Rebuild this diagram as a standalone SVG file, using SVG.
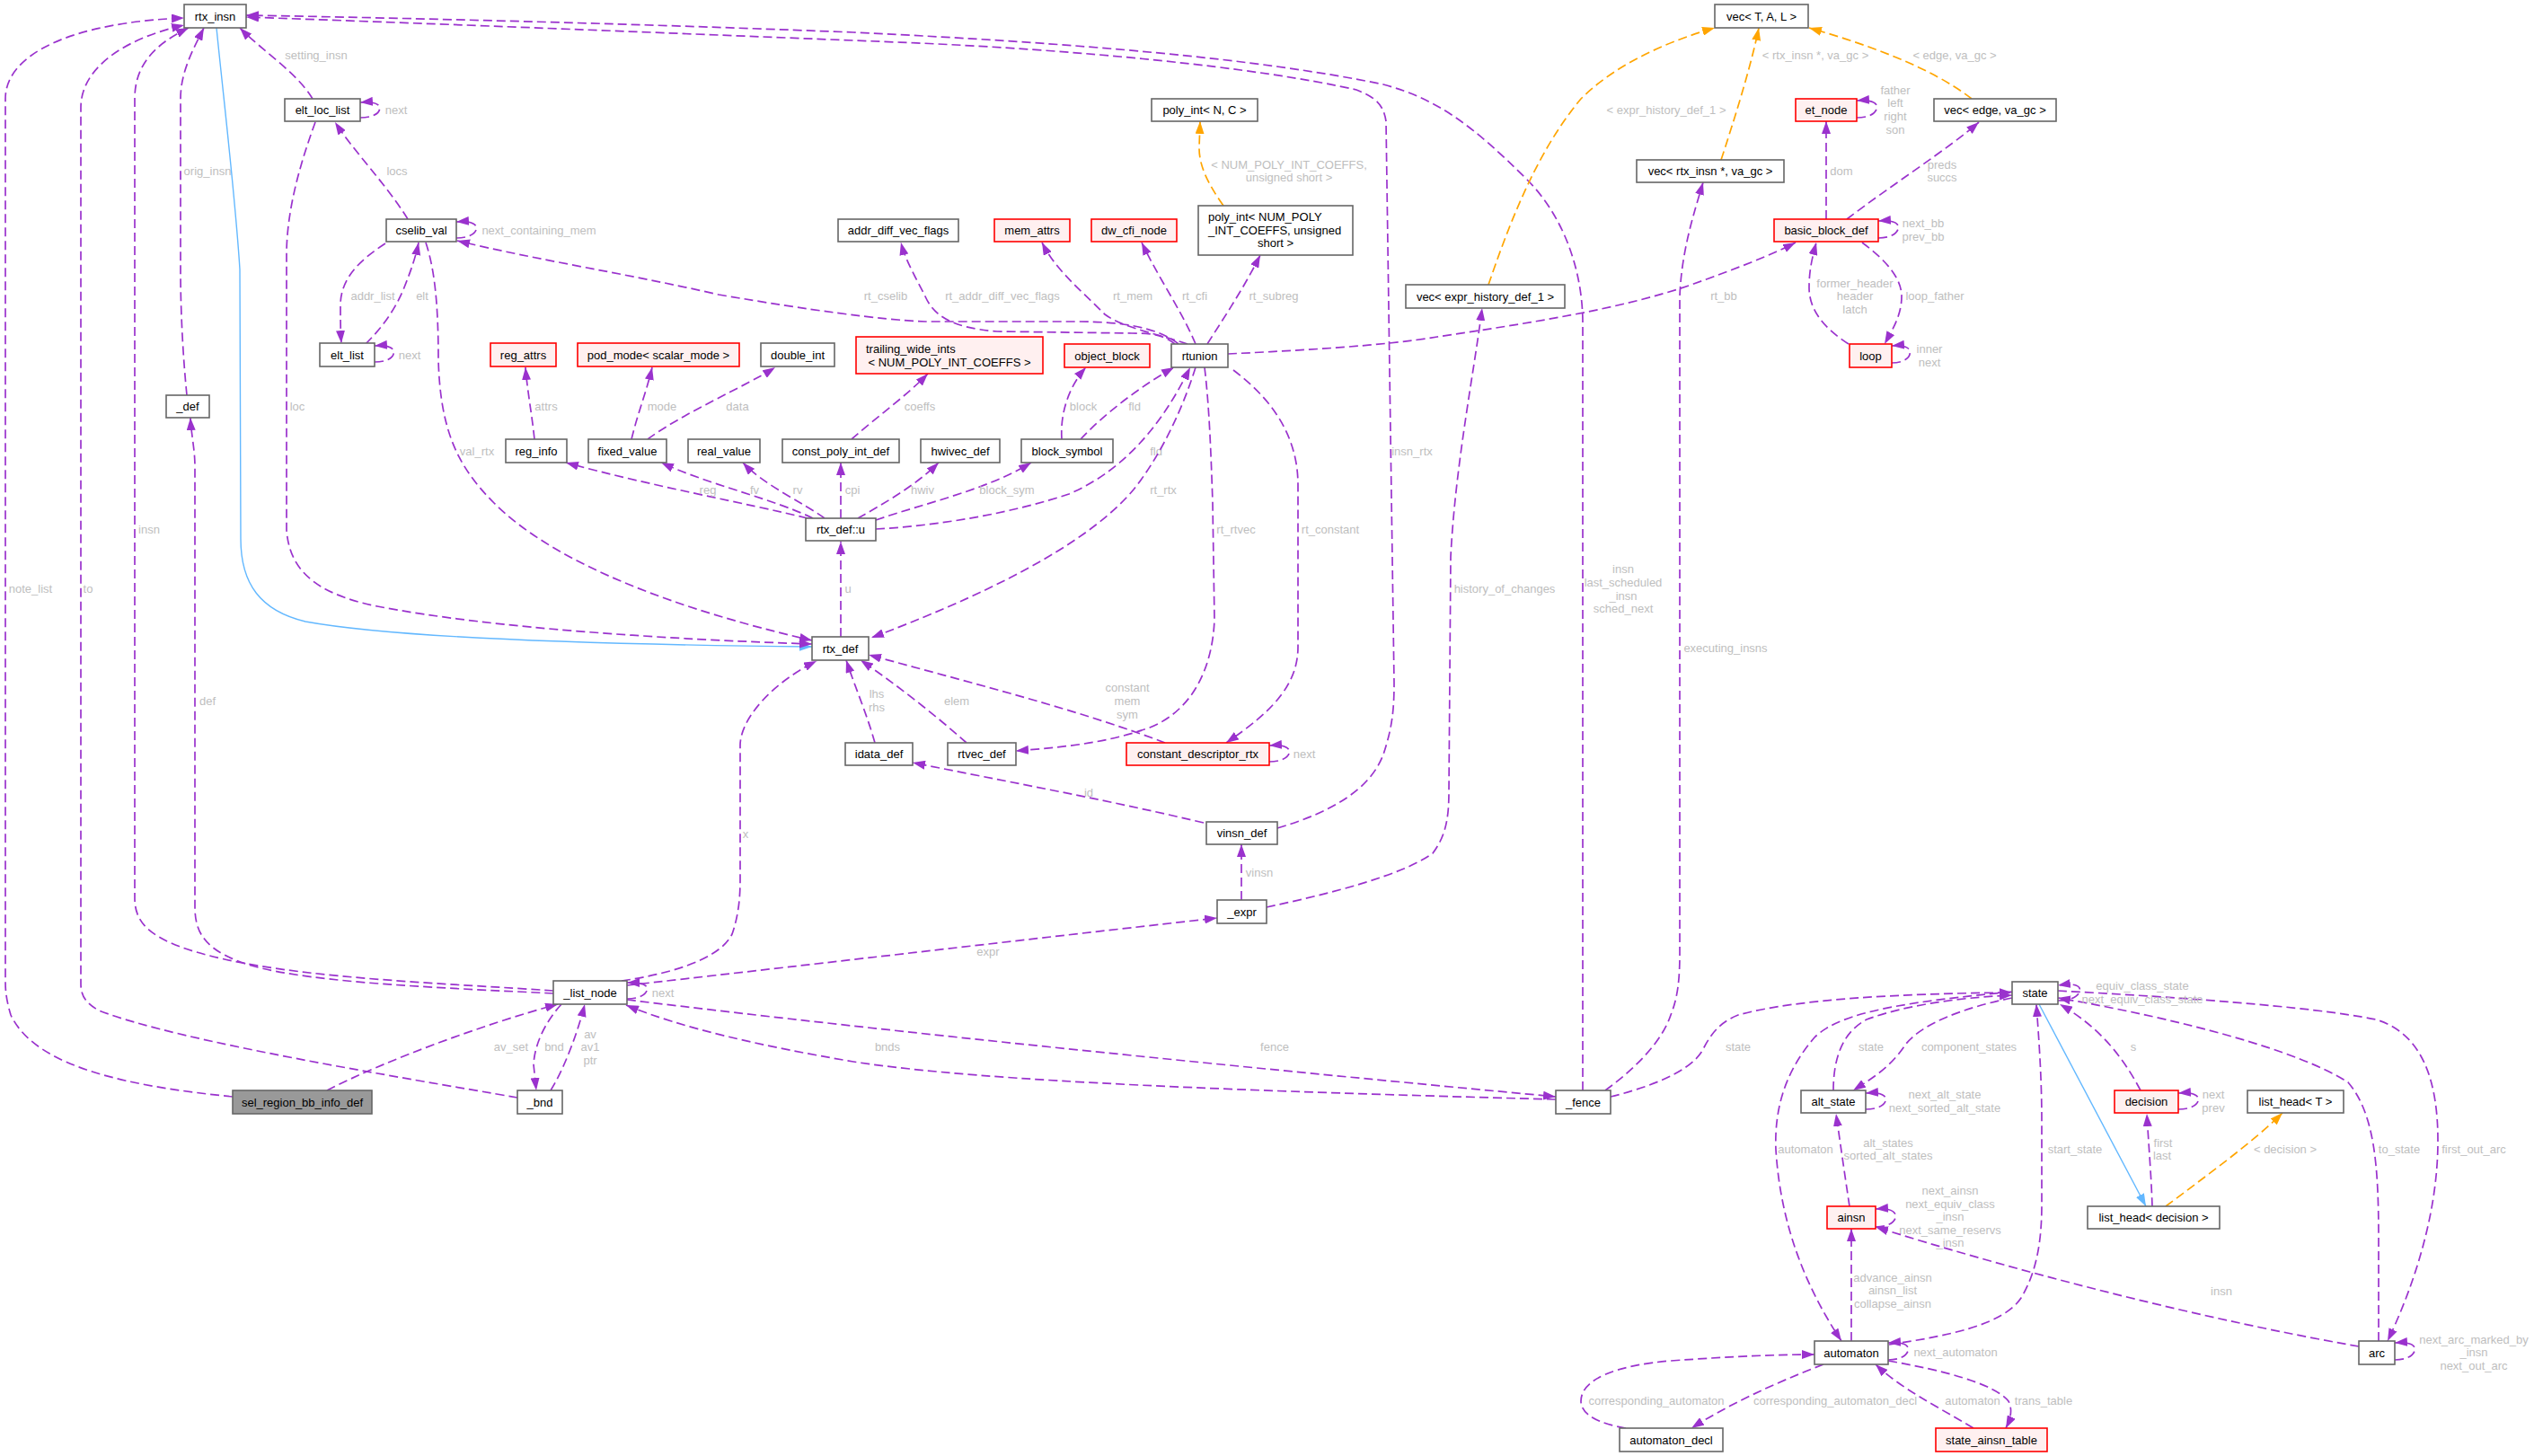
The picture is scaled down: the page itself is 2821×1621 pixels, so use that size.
<svg xmlns="http://www.w3.org/2000/svg" width="2821" height="1621" viewBox="0 0 2821 1621">
<style>
.bg{fill:#ffffff}
.n rect{fill:#ffffff;stroke:#666666;stroke-width:1.6}
.n.red rect{fill:#fff0f0;stroke:#ff0000}
.n.root rect{fill:#999999;stroke:#666666}
.n text{font-family:"Liberation Sans",Arial,sans-serif;font-size:13px;fill:#000000;text-anchor:middle}
.n text.l{text-anchor:start}
.e path{fill:none;stroke:#9a32cd;stroke-width:1.7;stroke-dasharray:10,5;marker-end:url(#ap)}
.e.o path{stroke:#ffa500;marker-end:url(#ao)}
.e.b path{stroke:#63b8ff;stroke-dasharray:none;stroke-width:1.4;marker-end:url(#ab)}
.e text{font-family:"Liberation Sans",Arial,sans-serif;font-size:13px;fill:#bebebe;text-anchor:middle}
</style>
<defs>
<marker id="ap" markerUnits="userSpaceOnUse" markerWidth="14" markerHeight="10" viewBox="0 0 14 10" refX="14" refY="5" orient="auto"><path d="M0,0 L14,5 L0,10 z" fill="#9a32cd"/></marker>
<marker id="ao" markerUnits="userSpaceOnUse" markerWidth="14" markerHeight="10" viewBox="0 0 14 10" refX="14" refY="5" orient="auto"><path d="M0,0 L14,5 L0,10 z" fill="#ffa500"/></marker>
<marker id="ab" markerUnits="userSpaceOnUse" markerWidth="14" markerHeight="10" viewBox="0 0 14 10" refX="14" refY="5" orient="auto"><path d="M0,0 L14,5 L0,10 z" fill="#63b8ff"/></marker>
</defs>
<rect class="bg" x="0" y="0" width="2821" height="1621"/>
<g id="edges">
<g class="e"><path d="M259,1221 C150,1210 40,1190 12,1130 C6,1110 6,1100 6,1090 L6,110 C6,60 80,25 205,20"/><text x="34" y="659.5">note_list</text></g>
<g class="e"><path d="M576,1222 C450,1200 200,1160 110,1125 C92,1115 90,1105 90,1095 L90,120 C90,70 150,40 205,28"/><text x="98" y="659.5">to</text></g>
<g class="e"><path d="M616,1103 C500,1095 350,1090 250,1068 C170,1050 150,1030 150,1000 L150,110 C150,70 175,48 210,31"/><text x="166" y="593.5">insn</text></g>
<g class="e"><path d="M208,440 C204,400 201,350 201,300 L201,110 C201,80 215,55 227,31"/><text x="231" y="194.5">orig_insn</text></g>
<g class="e"><path d="M616,1106 C500,1100 350,1095 280,1075 C230,1060 217,1040 217,1010 L217,520 C217,500 213,485 212,465"/><text x="231" y="784.5">def</text></g>
<g class="e"><path d="M348,110 C330,80 290,55 267,31"/><text x="352" y="65.5">setting_insn</text></g>
<g class="e"><path d="M401,131 C418,131 425,124 422,118 C420,115 413,113 401,114"/><text x="441" y="126.5">next</text></g>
<g class="e"><path d="M454,244 C430,205 395,170 373,136"/><text x="442" y="194.5">locs</text></g>
<g class="e"><path d="M508,265 C525,265 532,258 530,252 C528,248 521,246 508,247"/><text x="600" y="260.5">next_containing_mem</text></g>
<g class="e"><path d="M407,383 C425,365 440,345 450,320 C458,300 463,285 466,270"/><text x="470" y="333.5">elt</text></g>
<g class="e"><path d="M429,271 C400,290 379,310 379,340 C379,355 379,368 380,382"/><text x="415" y="333.5">addr_list</text></g>
<g class="e"><path d="M417,403 C434,403 440,396 438,390 C436,386 429,384 417,385"/><text x="456" y="399.5">next</text></g>
<g class="e"><path d="M1312,383 C1290,365 1250,358 1200,358 L1030,358 C980,356 900,345 800,328 C700,305 600,290 509,268"/><text x="986" y="333.5">rt_cselib</text></g>
<g class="e"><path d="M1308,383 C1295,372 1280,371 1260,371 L1110,369 C1060,365 1040,352 1030,330 C1020,310 1008,290 1003,270"/><text x="1116" y="333.5">rt_addr_diff_vec_flags</text></g>
<g class="e"><path d="M1322,383 C1290,372 1250,365 1230,350 C1200,320 1175,300 1160,270"/><text x="1261" y="333.5">rt_mem</text></g>
<g class="e"><path d="M1331,383 C1315,345 1290,310 1271,270"/><text x="1330" y="333.5">rt_cfi</text></g>
<g class="e"><path d="M1344,383 C1365,350 1385,320 1403,284"/><text x="1418" y="333.5">rt_subreg</text></g>
<g class="e o"><path d="M1362,229 C1345,205 1335,185 1335,165 L1336,135"/><text x="1435" y="187.5">&lt; NUM_POLY_INT_COEFFS,</text><text x="1435" y="201.5">unsigned short &gt;</text></g>
<g class="e"><path d="M1367,394 C1450,390 1540,385 1600,375 C1700,360 1800,345 1880,318 C1930,300 1970,285 1999,270"/><text x="1919" y="333.5">rt_bb</text></g>
<g class="e"><path d="M1182,489 C1180,460 1190,430 1209,409"/><text x="1206" y="456.5">block</text></g>
<g class="e"><path d="M1203,489 C1230,460 1270,430 1307,409"/><text x="1263" y="456.5">fld</text></g>
<g class="e"><path d="M975,589 C1050,585 1130,570 1190,550 C1260,520 1300,460 1325,409"/><text x="1287" y="506.5">fld</text></g>
<g class="e"><path d="M1331,409 C1315,460 1290,510 1262,545 C1220,595 1130,650 970,710"/><text x="1295" y="549.5">rt_rtx</text></g>
<g class="e"><path d="M1341,409 C1346,450 1348,500 1350,560 L1352,690 C1350,740 1330,790 1280,810 C1230,828 1180,832 1131,836"/><text x="1376" y="593.5">rt_rtvec</text></g>
<g class="e"><path d="M1373,412 C1410,440 1445,480 1445,540 L1445,720 C1445,760 1420,790 1365,827"/><text x="1481" y="593.5">rt_constant</text></g>
<g class="e"><path d="M595,489 C592,460 587,435 585,409"/><text x="608" y="456.5">attrs</text></g>
<g class="e"><path d="M703,489 C710,460 720,435 726,409"/><text x="737" y="456.5">mode</text></g>
<g class="e"><path d="M721,489 C760,460 830,430 863,409"/><text x="821" y="456.5">data</text></g>
<g class="e"><path d="M948,489 C975,465 1010,440 1033,416"/><text x="1024" y="456.5">coeffs</text></g>
<g class="e"><path d="M899,577 C830,560 720,540 630,515"/><text x="788" y="549.5">reg</text></g>
<g class="e"><path d="M905,577 C860,555 790,540 736,515"/><text x="840" y="549.5">fv</text></g>
<g class="e"><path d="M918,577 C895,560 850,540 827,515"/><text x="888" y="549.5">rv</text></g>
<g class="e"><path d="M936,577 L936,515"/><text x="949" y="549.5">cpi</text></g>
<g class="e"><path d="M955,577 C985,560 1020,540 1045,515"/><text x="1027" y="549.5">hwiv</text></g>
<g class="e"><path d="M975,579 C1030,560 1100,545 1148,515"/><text x="1121" y="549.5">block_sym</text></g>
<g class="e"><path d="M936,709 L936,603"/><text x="944" y="659.5">u</text></g>
<g class="e b"><path d="M241,31 C250,120 262,220 267,300 L268,600 C268,650 290,680 340,692 C450,712 700,718 904,720"/></g>
<g class="e"><path d="M351,136 C335,180 320,230 319,280 L319,590 C322,630 345,660 420,675 C550,700 750,712 904,717"/><text x="331" y="456.5">loc</text></g>
<g class="e"><path d="M474,270 C484,300 488,340 488,400 C490,480 510,520 550,560 C620,630 760,680 904,713"/><text x="531" y="506.5">val_rtx</text></g>
<g class="e"><path d="M692,1092 C740,1085 800,1070 815,1040 C822,1020 824,1000 824,980 L824,830 C824,800 860,760 909,736"/><text x="830" y="932.5">x</text></g>
<g class="e"><path d="M974,827 C965,795 952,765 942,735"/><text x="976" y="776.5">lhs</text><text x="976" y="791.5">rhs</text></g>
<g class="e"><path d="M1076,827 C1040,795 995,760 958,735"/><text x="1065" y="784.5">elem</text></g>
<g class="e"><path d="M1297,827 C1200,790 1080,760 967,729"/><text x="1255" y="769.5">constant</text><text x="1255" y="784.5">mem</text><text x="1255" y="799.5">sym</text></g>
<g class="e"><path d="M1413,848 C1430,848 1437,841 1435,835 C1433,831 1426,829 1413,830"/><text x="1452" y="843.5">next</text></g>
<g class="e"><path d="M1340,916 C1230,890 1120,870 1016,849"/><text x="1212" y="886.5">id</text></g>
<g class="e"><path d="M1382,1002 L1382,940"/><text x="1402" y="975.5">vinsn</text></g>
<g class="e"><path d="M1422,922 C1480,905 1525,880 1540,840 C1550,810 1552,790 1552,760 L1543,135 C1540,115 1530,108 1510,100 C1400,75 1200,55 1000,47 C700,35 450,25 274,19"/><text x="1572" y="506.5">insn_rtx</text></g>
<g class="e"><path d="M1762,1214 L1762,360 C1762,300 1740,240 1700,200 C1640,140 1600,110 1540,94 C1400,65 1200,48 950,36 C700,26 450,20 274,17"/><text x="1807" y="637.5">insn</text><text x="1807" y="652.5">last_scheduled</text><text x="1807" y="667.5">_insn</text><text x="1807" y="681.5">sched_next</text></g>
<g class="e"><path d="M1787,1214 C1820,1190 1850,1160 1860,1130 C1868,1110 1870,1090 1870,1060 L1870,330 C1872,280 1885,240 1896,203"/><text x="1921" y="725.5">executing_insns</text></g>
<g class="e"><path d="M1410,1010 C1480,995 1560,975 1595,950 C1610,930 1613,910 1613,880 L1615,620 C1620,520 1640,420 1650,343"/><text x="1675" y="659.5">history_of_changes</text></g>
<g class="e o"><path d="M1657,317 C1680,250 1710,170 1760,110 C1800,70 1860,45 1909,31"/><text x="1855" y="126.5">&lt; expr_history_def_1 &gt;</text></g>
<g class="e o"><path d="M1916,178 C1935,120 1950,70 1958,31"/><text x="2021" y="65.5">&lt; rtx_insn *, va_gc &gt;</text></g>
<g class="e o"><path d="M2195,110 C2150,75 2080,50 2014,31"/><text x="2176" y="65.5">&lt; edge, va_gc &gt;</text></g>
<g class="e"><path d="M2067,131 C2085,131 2091,123 2089,117 C2087,113 2080,111 2067,112"/><text x="2110" y="104.5">father</text><text x="2110" y="118.5">left</text><text x="2110" y="133.5">right</text><text x="2110" y="148.5">son</text></g>
<g class="e"><path d="M2033,244 L2033,135"/><text x="2050" y="194.5">dom</text></g>
<g class="e"><path d="M2056,244 C2100,210 2170,165 2203,136"/><text x="2162" y="187.5">preds</text><text x="2162" y="201.5">succs</text></g>
<g class="e"><path d="M2091,265 C2108,265 2115,257 2113,251 C2111,247 2104,245 2091,246"/><text x="2141" y="252.5">next_bb</text><text x="2141" y="267.5">prev_bb</text></g>
<g class="e"><path d="M2058,383 C2030,365 2014,345 2014,320 C2014,300 2018,285 2022,270"/><text x="2065" y="319.5">former_header</text><text x="2065" y="333.5">header</text><text x="2065" y="348.5">latch</text></g>
<g class="e"><path d="M2073,270 C2100,290 2117,310 2117,330 C2117,350 2108,365 2098,383"/><text x="2154" y="333.5">loop_father</text></g>
<g class="e"><path d="M2106,404 C2122,404 2128,396 2126,390 C2124,386 2117,384 2106,385"/><text x="2148" y="392.5">inner</text><text x="2148" y="407.5">next</text></g>
<g class="e"><path d="M364,1214 C430,1180 540,1140 621,1118"/><text x="569" y="1169.5">av_set</text></g>
<g class="e"><path d="M625,1118 C605,1140 595,1165 594,1185 L597,1214"/><text x="617" y="1169.5">bnd</text></g>
<g class="e"><path d="M613,1214 C628,1190 643,1150 651,1118"/><text x="657" y="1155.5">av</text><text x="657" y="1169.5">av1</text><text x="657" y="1184.5">ptr</text></g>
<g class="e"><path d="M698,1097 C850,1080 1150,1045 1355,1022"/><text x="1100" y="1063.5">expr</text></g>
<g class="e"><path d="M698,1112 C715,1112 722,1105 720,1099 C718,1095 711,1094 698,1094"/><text x="738" y="1109.5">next</text></g>
<g class="e"><path d="M698,1113 C1000,1150 1400,1190 1732,1221"/><text x="1419" y="1169.5">fence</text></g>
<g class="e"><path d="M1732,1224 C1400,1215 1100,1205 950,1182 C850,1165 760,1145 697,1119"/><text x="988" y="1169.5">bnds</text></g>
<g class="e"><path d="M1793,1221 C1830,1212 1880,1195 1895,1170 C1905,1150 1915,1138 1935,1130 C2000,1112 2120,1106 2240,1105"/><text x="1935" y="1169.5">state</text></g>
<g class="e"><path d="M2240,1111 C2185,1122 2140,1140 2122,1162 C2105,1188 2085,1200 2063,1214"/><text x="2192" y="1169.5">component_states</text></g>
<g class="e"><path d="M2041,1214 C2041,1180 2050,1150 2078,1135 C2130,1116 2195,1110 2240,1108"/><text x="2083" y="1169.5">state</text></g>
<g class="e"><path d="M2077,1235 C2094,1235 2101,1228 2099,1222 C2097,1218 2090,1216 2077,1217"/><text x="2165" y="1222.5">next_alt_state</text><text x="2165" y="1237.5">next_sorted_alt_state</text></g>
<g class="e"><path d="M2059,1343 C2054,1310 2049,1275 2044,1240"/><text x="2102" y="1276.5">alt_states</text><text x="2102" y="1290.5">sorted_alt_states</text></g>
<g class="e"><path d="M2088,1366 C2105,1366 2112,1358 2110,1352 C2108,1347 2101,1345 2088,1346"/><text x="2171" y="1329.5">next_ainsn</text><text x="2171" y="1344.5">next_equiv_class</text><text x="2171" y="1358.5">_insn</text><text x="2171" y="1373.5">next_same_reservs</text><text x="2171" y="1387.5">_insn</text></g>
<g class="e"><path d="M2626,1499 C2460,1470 2260,1420 2088,1366"/><text x="2473" y="1441.5">insn</text></g>
<g class="e"><path d="M2061,1493 L2061,1368"/><text x="2107" y="1426.5">advance_ainsn</text><text x="2107" y="1440.5">ainsn_list</text><text x="2107" y="1455.5">collapse_ainsn</text></g>
<g class="e"><path d="M2240,1104 C2130,1115 2050,1125 2020,1155 C1990,1190 1975,1230 1977,1280 C1982,1360 2008,1430 2050,1493"/><text x="2010" y="1283.5">automaton</text></g>
<g class="e"><path d="M2103,1497 C2170,1487 2230,1475 2250,1445 C2268,1415 2273,1380 2273,1340 L2273,1250 C2273,1200 2270,1160 2267,1118"/><text x="2310" y="1283.5">start_state</text></g>
<g class="e"><path d="M2102,1514 C2119,1514 2126,1506 2124,1500 C2122,1496 2115,1494 2102,1495"/><text x="2177" y="1509.5">next_automaton</text></g>
<g class="e"><path d="M1810,1590 C1780,1585 1760,1575 1760,1560 C1760,1535 1800,1520 1860,1515 C1930,1510 1980,1508 2020,1508"/><text x="1844" y="1563.5">corresponding_automaton</text></g>
<g class="e"><path d="M2030,1519 C1975,1540 1922,1565 1883,1590"/><text x="2043" y="1563.5">corresponding_automaton_decl</text></g>
<g class="e"><path d="M2197,1590 C2155,1565 2115,1545 2088,1519"/><text x="2196" y="1563.5">automaton</text></g>
<g class="e"><path d="M2102,1515 C2160,1525 2220,1540 2236,1560 C2241,1570 2238,1580 2233,1590"/><text x="2275" y="1563.5">trans_table</text></g>
<g class="e"><path d="M2425,1235 C2442,1235 2449,1228 2447,1222 C2445,1218 2438,1216 2425,1217"/><text x="2464" y="1222.5">next</text><text x="2464" y="1237.5">prev</text></g>
<g class="e"><path d="M2383,1214 C2365,1180 2340,1145 2293,1118"/><text x="2375" y="1169.5">s</text></g>
<g class="e"><path d="M2396,1343 C2395,1310 2392,1275 2390,1240"/><text x="2408" y="1276.5">first</text><text x="2407" y="1290.5">last</text></g>
<g class="e o"><path d="M2411,1343 C2455,1310 2510,1270 2541,1239"/><text x="2544" y="1283.5">&lt; decision &gt;</text></g>
<g class="e b"><path d="M2270,1118 L2389,1343"/></g>
<g class="e"><path d="M2291,1103 C2420,1110 2570,1120 2645,1135 C2695,1150 2714,1200 2714,1270 C2714,1350 2688,1430 2658,1493"/><text x="2754" y="1283.5">first_out_arc</text></g>
<g class="e"><path d="M2648,1493 L2648,1380 C2648,1300 2644,1240 2614,1205 C2560,1170 2430,1135 2291,1111"/><text x="2671" y="1283.5">to_state</text></g>
<g class="e"><path d="M2291,1114 C2310,1114 2317,1106 2315,1100 C2313,1096 2305,1095 2291,1097"/><text x="2385" y="1101.5">equiv_class_state</text><text x="2385" y="1116.5">next_equiv_class_state</text></g>
<g class="e"><path d="M2666,1514 C2683,1514 2690,1506 2688,1500 C2686,1496 2679,1494 2666,1495"/><text x="2754" y="1495.5">next_arc_marked_by</text><text x="2754" y="1509.5">_insn</text><text x="2754" y="1524.5">next_out_arc</text></g>
</g>
<g id="n_rtx_insn" class="n"><rect x="205" y="5" width="69" height="26"/><text x="239.5" y="22.5">rtx_insn</text></g>
<g id="n_elt_loc_list" class="n"><rect x="317" y="110" width="84" height="25"/><text x="359" y="127">elt_loc_list</text></g>
<g id="n_cselib_val" class="n"><rect x="430" y="244" width="78" height="25"/><text x="469" y="261">cselib_val</text></g>
<g id="n_elt_list" class="n"><rect x="356" y="382" width="61" height="26"/><text x="386.5" y="399.5">elt_list</text></g>
<g id="n_def" class="n"><rect x="185" y="440" width="48" height="25"/><text x="209" y="457">_def</text></g>
<g id="n_reg_attrs" class="n red"><rect x="546" y="382" width="73" height="26"/><text x="582.5" y="399.5">reg_attrs</text></g>
<g id="n_pod_mode" class="n red"><rect x="643" y="382" width="180" height="26"/><text x="733" y="399.5">pod_mode&lt; scalar_mode &gt;</text></g>
<g id="n_double_int" class="n"><rect x="847" y="382" width="82" height="26"/><text x="888" y="399.5">double_int</text></g>
<g id="n_reg_info" class="n"><rect x="563" y="489" width="68" height="26"/><text x="597" y="506.5">reg_info</text></g>
<g id="n_fixed_value" class="n"><rect x="655" y="489" width="87" height="26"/><text x="698.5" y="506.5">fixed_value</text></g>
<g id="n_real_value" class="n"><rect x="766" y="489" width="80" height="26"/><text x="806" y="506.5">real_value</text></g>
<g id="n_const_poly_int_def" class="n"><rect x="871" y="489" width="130" height="26"/><text x="936" y="506.5">const_poly_int_def</text></g>
<g id="n_hwivec_def" class="n"><rect x="1025" y="489" width="88" height="26"/><text x="1069" y="506.5">hwivec_def</text></g>
<g id="n_block_symbol" class="n"><rect x="1137" y="489" width="102" height="26"/><text x="1188" y="506.5">block_symbol</text></g>
<g id="n_trailing_wide_ints" class="n red"><rect x="953" y="375" width="208" height="41"/><text class="l" x="964" y="392.5">trailing_wide_ints</text><text x="1057" y="407.5">&lt; NUM_POLY_INT_COEFFS &gt;</text></g>
<g id="n_object_block" class="n red"><rect x="1185" y="383" width="95" height="26"/><text x="1232.5" y="400.5">object_block</text></g>
<g id="n_rtunion" class="n"><rect x="1304" y="383" width="63" height="26"/><text x="1335.5" y="400.5">rtunion</text></g>
<g id="n_addr_diff_vec_flags" class="n"><rect x="933" y="244" width="134" height="25"/><text x="1000" y="261">addr_diff_vec_flags</text></g>
<g id="n_mem_attrs" class="n red"><rect x="1107" y="244" width="84" height="25"/><text x="1149" y="261">mem_attrs</text></g>
<g id="n_dw_cfi_node" class="n red"><rect x="1215" y="244" width="95" height="25"/><text x="1262.5" y="261">dw_cfi_node</text></g>
<g id="n_poly_int_num" class="n"><rect x="1334" y="229" width="172" height="55"/><text class="l" x="1345" y="245.5">poly_int&lt; NUM_POLY</text><text class="l" x="1345" y="260.5">_INT_COEFFS, unsigned</text><text x="1420" y="274.5">short &gt;</text></g>
<g id="n_poly_int_nc" class="n"><rect x="1282" y="110" width="118" height="25"/><text x="1341" y="127">poly_int&lt; N, C &gt;</text></g>
<g id="n_vec_expr_history" class="n"><rect x="1565" y="317" width="177" height="26"/><text x="1653.5" y="334.5">vec&lt; expr_history_def_1 &gt;</text></g>
<g id="n_vec_rtx_insn" class="n"><rect x="1822" y="178" width="164" height="25"/><text x="1904" y="195">vec&lt; rtx_insn *, va_gc &gt;</text></g>
<g id="n_vec_tal" class="n"><rect x="1909" y="5" width="104" height="26"/><text x="1961" y="22.5">vec&lt; T, A, L &gt;</text></g>
<g id="n_et_node" class="n red"><rect x="1999" y="110" width="68" height="25"/><text x="2033" y="127">et_node</text></g>
<g id="n_vec_edge" class="n"><rect x="2153" y="110" width="136" height="25"/><text x="2221" y="127">vec&lt; edge, va_gc &gt;</text></g>
<g id="n_basic_block_def" class="n red"><rect x="1975" y="244" width="116" height="25"/><text x="2033" y="261">basic_block_def</text></g>
<g id="n_loop" class="n red"><rect x="2059" y="383" width="47" height="26"/><text x="2082.5" y="400.5">loop</text></g>
<g id="n_rtx_def_u" class="n"><rect x="897" y="577" width="78" height="25"/><text x="936" y="594">rtx_def::u</text></g>
<g id="n_rtx_def" class="n"><rect x="904" y="709" width="63" height="26"/><text x="935.5" y="726.5">rtx_def</text></g>
<g id="n_idata_def" class="n"><rect x="941" y="827" width="75" height="25"/><text x="978.5" y="844">idata_def</text></g>
<g id="n_rtvec_def" class="n"><rect x="1055" y="827" width="76" height="25"/><text x="1093" y="844">rtvec_def</text></g>
<g id="n_constant_descriptor_rtx" class="n red"><rect x="1254" y="827" width="159" height="25"/><text x="1333.5" y="844">constant_descriptor_rtx</text></g>
<g id="n_vinsn_def" class="n"><rect x="1343" y="915" width="79" height="25"/><text x="1382.5" y="932">vinsn_def</text></g>
<g id="n_expr" class="n"><rect x="1355" y="1002" width="55" height="26"/><text x="1382.5" y="1019.5">_expr</text></g>
<g id="n_list_node" class="n"><rect x="616" y="1092" width="82" height="26"/><text x="657" y="1109.5">_list_node</text></g>
<g id="n_sel_region_bb_info_def" class="n root"><rect x="259" y="1214" width="155" height="26"/><text x="336.5" y="1231.5">sel_region_bb_info_def</text></g>
<g id="n_bnd" class="n"><rect x="576" y="1214" width="50" height="26"/><text x="601" y="1231.5">_bnd</text></g>
<g id="n_fence" class="n"><rect x="1732" y="1214" width="61" height="26"/><text x="1762.5" y="1231.5">_fence</text></g>
<g id="n_state" class="n"><rect x="2240" y="1093" width="51" height="25"/><text x="2265.5" y="1110">state</text></g>
<g id="n_alt_state" class="n"><rect x="2005" y="1214" width="72" height="25"/><text x="2041" y="1231">alt_state</text></g>
<g id="n_ainsn" class="n red"><rect x="2034" y="1343" width="54" height="25"/><text x="2061" y="1360">ainsn</text></g>
<g id="n_automaton" class="n"><rect x="2020" y="1493" width="82" height="26"/><text x="2061" y="1510.5">automaton</text></g>
<g id="n_automaton_decl" class="n"><rect x="1803" y="1590" width="115" height="26"/><text x="1860.5" y="1607.5">automaton_decl</text></g>
<g id="n_state_ainsn_table" class="n red"><rect x="2155" y="1590" width="124" height="26"/><text x="2217" y="1607.5">state_ainsn_table</text></g>
<g id="n_decision" class="n red"><rect x="2354" y="1214" width="71" height="25"/><text x="2389.5" y="1231">decision</text></g>
<g id="n_list_head_t" class="n"><rect x="2502" y="1214" width="107" height="25"/><text x="2555.5" y="1231">list_head&lt; T &gt;</text></g>
<g id="n_list_head_decision" class="n"><rect x="2324" y="1343" width="147" height="25"/><text x="2397.5" y="1360">list_head&lt; decision &gt;</text></g>
<g id="n_arc" class="n"><rect x="2626" y="1493" width="40" height="26"/><text x="2646" y="1510.5">arc</text></g>
</svg>
